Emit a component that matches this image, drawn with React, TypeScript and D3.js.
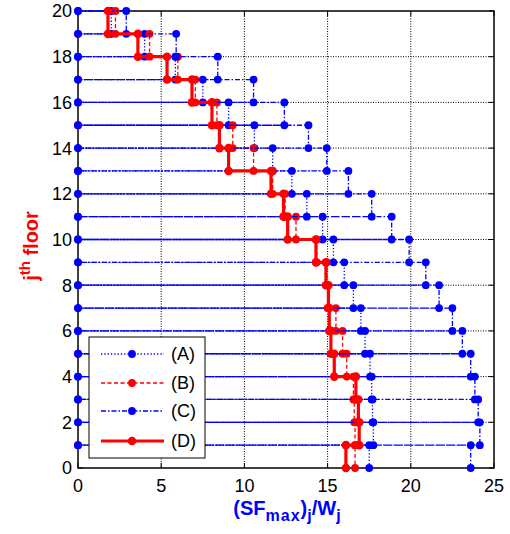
import React from 'react';
import * as d3 from 'd3';

// Floors j = 20 .. 1 (value V_j is drawn between floor j and floor j-1)
const floors = [20, 19, 18, 17, 16, 15, 14, 13, 12, 11, 10, 9, 8, 7, 6, 5, 4, 3, 2, 1];
const seriesA = [2.0, 4.0, 5.85, 7.5, 9.05, 10.6, 11.7, 12.85, 13.75, 14.7, 15.35, 16.0, 16.55, 17.0, 17.25, 17.55, 17.65, 17.7, 17.75, 17.5];
const seriesB = [2.25, 4.3, 6.0, 7.05, 8.35, 9.3, 10.55, 11.7, 12.45, 13.1, 14.35, 14.95, 15.0, 15.5, 15.9, 16.15, 16.55, 16.6, 16.65, 16.65];
const seriesC = [2.9, 5.9, 8.4, 10.55, 12.4, 13.85, 14.95, 16.25, 17.65, 18.85, 19.9, 20.9, 21.7, 22.5, 23.1, 23.6, 23.85, 24.05, 24.15, 23.6];
const seriesD = [1.8, 3.6, 5.35, 6.85, 8.05, 8.5, 9.05, 11.6, 12.35, 12.6, 14.3, 14.9, 15.05, 15.1, 15.2, 15.4, 16.7, 16.85, 16.9, 16.1];
const xTicks = [0, 5, 10, 15, 20, 25];
const yTicks = [0, 2, 4, 6, 8, 10, 12, 14, 16, 18, 20];
const legendLabels = ['(A)', '(B)', '(C)', '(D)'];

type Pt = [number, number];

export default function App() {
  const W = 510, H = 534;
  const L = 78, R = 494, T = 11, B = 468;
  const x = d3.scaleLinear().domain([0, 25]).range([L, R]);
  const y = d3.scaleLinear().domain([0, 20]).range([B, T]);
  const line = d3.line<Pt>().x(d => x(d[0])).y(d => y(d[1]));

  const build = (vals: number[], toZero: boolean): Pt[] => {
    const p: Pt[] = [];
    vals.forEach((v, i) => {
      const j = floors[i];
      if (toZero) p.push([0, j]);
      p.push([v, j]);
      p.push([v, j - 1]);
    });
    return p;
  };

  const blue = '#0000ff', red = '#ff0000';
  const series = [
    { vals: seriesA, color: blue, dash: '1.3,2', w: 1.3, zero: true, r: 3.9 },
    { vals: seriesB, color: red, dash: '4,2.5', w: 1.3, zero: false, r: 3.9 },
    { vals: seriesC, color: blue, dash: '5,2,1.5,2', w: 1.3, zero: true, r: 3.9 },
    { vals: seriesD, color: red, dash: 'none', w: 3.2, zero: false, r: 4.3 },
  ];

  const font = 'Arial, "Liberation Sans", Helvetica, sans-serif';
  const tickLen = 5;
  const legX = 89, legY = 337, legW = 116, legH = 121;
  const legRows = [354, 383, 411, 441];

  return (
    <svg width={W} height={H} style={{ position: 'absolute', left: 0, top: 0, background: '#fff' }} fontFamily={font}>
      <rect x={0} y={0} width={W} height={H} fill="#fff" />
      {/* grid */}
      {xTicks.slice(1, -1).map(t => (
        <line key={'gx' + t} x1={x(t)} x2={x(t)} y1={T} y2={B} stroke="#000" strokeWidth={1} strokeDasharray="1,1.5" />
      ))}
      {yTicks.slice(1, -1).map(t => (
        <line key={'gy' + t} x1={L} x2={R} y1={y(t)} y2={y(t)} stroke="#000" strokeWidth={1} strokeDasharray="1,1.5" />
      ))}
      {/* box */}
      <rect x={L} y={T} width={R - L} height={B - T} fill="none" stroke="#000" strokeWidth={1.5} />
      {xTicks.map(t => (
        <g key={'tx' + t}>
          <line x1={x(t)} x2={x(t)} y1={B} y2={B - tickLen} stroke="#000" />
          <line x1={x(t)} x2={x(t)} y1={T} y2={T + tickLen} stroke="#000" />
          <text x={x(t)} y={492} textAnchor="middle" fontSize={18} fill="#000">{t}</text>
        </g>
      ))}
      {yTicks.map(t => (
        <g key={'ty' + t}>
          <line x1={L} x2={L + tickLen} y1={y(t)} y2={y(t)} stroke="#000" />
          <line x1={R} x2={R - tickLen} y1={y(t)} y2={y(t)} stroke="#000" />
          <text x={72} y={y(t)} dy="0.36em" textAnchor="end" fontSize={18} fill="#000">{t}</text>
        </g>
      ))}
      {/* data */}
      {series.map((s, i) => {
        const pts = build(s.vals, s.zero);
        return (
          <g key={'s' + i}>
            <path d={line(pts) || ''} fill="none" stroke={s.color} strokeWidth={s.w} strokeDasharray={s.dash} />
            {pts.map((p, k) => (
              <circle key={k} cx={x(p[0])} cy={y(p[1])} r={s.r} fill={s.color} />
            ))}
          </g>
        );
      })}
      {/* legend */}
      <rect x={legX} y={legY} width={legW} height={legH} fill="#fff" stroke="#000" strokeWidth={1} />
      {series.map((s, i) => (
        <g key={'l' + i}>
          <line x1={101} x2={164} y1={legRows[i]} y2={legRows[i]} stroke={s.color} strokeWidth={s.w} strokeDasharray={s.dash} />
          <circle cx={132} cy={legRows[i]} r={s.r} fill={s.color} />
          <text x={171} y={legRows[i]} dy="0.36em" fontSize={18} fill="#000">{legendLabels[i]}</text>
        </g>
      ))}
      {/* axis labels */}
      <text x={287} y={515} textAnchor="middle" fontSize={20} fontWeight="bold" fill={blue}>
        (SF<tspan fontSize={16} dy={6} letterSpacing={1}>max</tspan><tspan dy={-6}>)</tspan><tspan fontSize={16} dy={6}>j</tspan><tspan dy={-6}>/W</tspan><tspan fontSize={16} dy={6}>j</tspan>
      </text>
      <text transform="translate(38,246) rotate(-90)" textAnchor="middle" fontSize={20} fontWeight="bold" fill={red}>
        j<tspan fontSize={15} dy={-8}>th</tspan><tspan dy={8}> floor</tspan>
      </text>
    </svg>
  );
}
